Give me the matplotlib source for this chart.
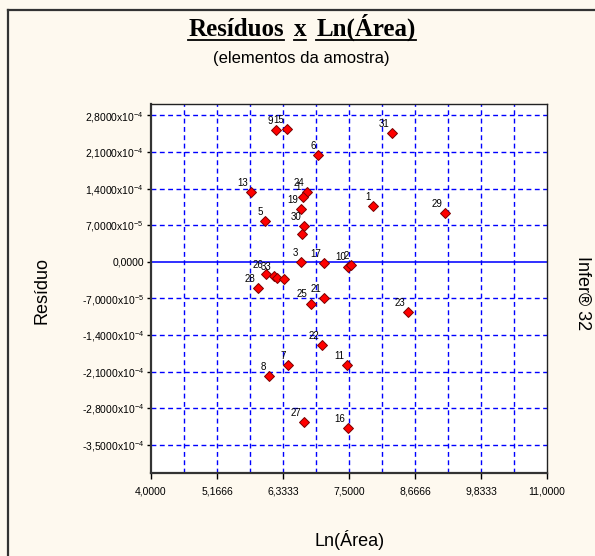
import numpy as np
import matplotlib.pyplot as plt
from matplotlib.lines import Line2D

plt.rcParams['font.family'] = ['Liberation Sans', 'DejaVu Sans']
plt.rcParams['mathtext.fontset'] = 'custom'
plt.rcParams['mathtext.rm'] = 'Liberation Sans'
plt.rcParams['mathtext.it'] = 'Liberation Sans'
plt.rcParams['mathtext.bf'] = 'Liberation Sans'

# valores (residuo em unidades de 1e-4)
ln_area = [6.21, 6.40, 8.26, 6.96, 5.76, 6.76, 6.69, 6.65, 7.93, 9.20, 6.02,
           6.71, 6.67, 6.65, 7.06, 7.49, 7.54, 6.03, 6.17, 6.22, 6.35, 5.90,
           7.06, 6.82, 8.54, 7.03, 6.43, 7.46, 6.09, 6.70, 7.49]
residuo = [2.52, 2.54, 2.46, 2.05, 1.33, 1.33, 1.25, 1.01, 1.06, 0.93, 0.78,
           0.68, 0.53, 0.00, -0.02, -0.09, -0.06, -0.23, -0.28, -0.31, -0.33, -0.50,
           -0.69, -0.80, -0.96, -1.59, -1.98, -1.98, -2.19, -3.07, -3.18]
rotulos = ['9', '15', '31', '6', '13', '24', '1', '19', '1', '29', '5',
           '30', '', '3', '17', '10', '2', '26', '33', '', '', '28',
           '21', '25', '23', '22', '7', '11', '8', '27', '16']

yticks = [2.8, 2.1, 1.4, 0.7, 0.0, -0.7, -1.4, -2.1, -2.8, -3.5]
ytick_labels = ['2,8000x10$^{-4}$', '2,1000x10$^{-4}$', '1,4000x10$^{-4}$',
                '7,0000x10$^{-5}$', '0,0000', '-7,0000x10$^{-5}$',
                '-1,4000x10$^{-4}$', '-2,1000x10$^{-4}$', '-2,8000x10$^{-4}$',
                '-3,5000x10$^{-4}$']
xticks = [4.0, 5.1666, 6.3333, 7.5, 8.6666, 9.8333, 11.0]
xtick_labels = ['4,0000', '5,1666', '6,3333', '7,5000', '8,6666', '9,8333', '11,0000']

W, H = 595, 556
fig = plt.figure(figsize=(W / 100, H / 100), dpi=100)
fig.patch.set_facecolor('#FEF9EF')

ax = fig.add_axes([151 / W, 83 / H, 396 / W, 369 / H])
ax.set_facecolor('white')
ax.set_xlim(4, 11)
ax.set_ylim(-4.04, 3.02)

# grade azul tracejada
for y in yticks:
    if y == 0:
        ax.axhline(y, color='#2020ff', lw=1.3, zorder=1)
    else:
        ax.axhline(y, color='#0000ff', lw=1.0, ls=(0, (3.5, 2.5)), zorder=1)
for k in range(1, 12):
    ax.axvline(4 + k * 7 / 12, color='#0000ff', lw=1.0, ls=(0, (3.5, 2.5)), zorder=1)

ax.plot(ln_area, residuo, 'D', ms=5, mfc='#ff0000', mec='#7a0000', mew=0.7, zorder=3)
for xv, yv, r in zip(ln_area, residuo, rotulos):
    ax.annotate(r, (xv, yv), xytext=(-2, 3), textcoords='offset points',
                ha='right', va='bottom', fontsize=7, zorder=4)

ax.set_yticks(yticks)
ax.set_yticklabels(ytick_labels, fontsize=7.5)
ax.set_xticks(xticks)
ax.set_xticklabels(xtick_labels, fontsize=7.5)
ax.tick_params(axis='y', direction='out', length=3, width=1, pad=2)
ax.tick_params(axis='x', direction='out', length=4, width=1, pad=6)

for s in ['left', 'bottom']:
    ax.spines[s].set_linewidth(1.6)
    ax.spines[s].set_color('#333333')
for s in ['top', 'right']:
    ax.spines[s].set_linewidth(1.0)
    ax.spines[s].set_color('#222222')

# moldura da figura
fig.add_artist(Line2D([8 / W, 8 / W], [0, 1 - 10 / H], transform=fig.transFigure,
                      color='#333333', lw=1.6))
fig.add_artist(Line2D([8 / W, 1], [1 - 10 / H, 1 - 10 / H], transform=fig.transFigure,
                      color='#333333', lw=1.6))

# titulo com palavras sublinhadas
palavras = ['Resíduos', 'x', 'Ln(Área)']
textos = [fig.text(0, 1 - 36 / H, p, fontsize=18, fontweight='bold',
                   family='Liberation Serif', va='baseline', ha='left') for p in palavras]
fig.canvas.draw()
r = fig.canvas.get_renderer()
larg = [t.get_window_extent(r).width for t in textos]
esp = 10
total = sum(larg) + esp * (len(larg) - 1)
x0 = 302 - total / 2
for t, w in zip(textos, larg):
    t.set_x(x0 / W)
    fig.add_artist(Line2D([x0 / W, (x0 + w) / W], [1 - 39.5 / H, 1 - 39.5 / H],
                          transform=fig.transFigure, color='black', lw=1.3))
    x0 += w + esp

fig.text(301 / W, 1 - 59 / H, '(elementos da amostra)', fontsize=12, ha='center', va='center')
fig.text(42 / W, 1 - 291 / H, 'Resíduo', fontsize=13, rotation=90, ha='center', va='center')
fig.text(350 / W, 1 - 540 / H, 'Ln(Área)', fontsize=13, ha='center', va='center')
fig.text(583 / W, 1 - 293 / H, 'Infer® 32', fontsize=13, rotation=270, ha='center', va='center')

fig.savefig('out.png', dpi=100, facecolor=fig.get_facecolor())
